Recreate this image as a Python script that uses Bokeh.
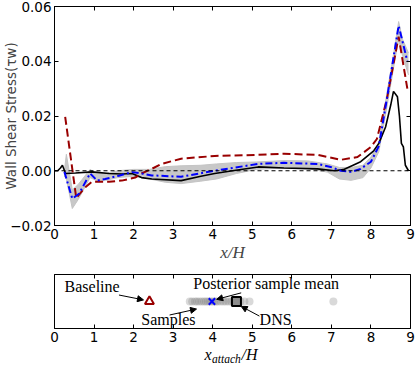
from bokeh.plotting import figure
from bokeh.models import (LinearAxis, FixedTicker, Label, Arrow, NormalHead, Span, Range1d)
from bokeh.layouts import column
from bokeh.embed import file_html
from bokeh.resources import INLINE

# ---------------- data ----------------
xticks = [0, 1, 2, 3, 4, 5, 6, 7, 8, 9]
yticks = [-0.02, 0.0, 0.02, 0.04, 0.06]
ytick_labels = ["\u22120.02", "0.00", "0.02", "0.04", "0.06"]

dns_x = [0.0, 0.08, 0.15, 0.2, 0.28, 0.53, 0.95, 1.38, 1.7, 1.96, 2.2, 2.46, 3.2, 3.7, 4.05,
         4.5, 5.15, 5.8, 6.65, 7.07, 7.3, 7.74, 8.07, 8.2, 8.37, 8.5, 8.57, 8.67, 8.72, 8.77,
         8.82, 8.87, 8.95]
dns_y = [0.0, 0.0, 0.001, 0.002, -0.001, -0.0008, -0.0004, -0.001, -0.0012, -0.001, -0.0025,
         -0.003, -0.0036, -0.002, -0.001, 0.0, 0.0014, 0.001, 0.0007, 0.0, 0.0004, 0.0033,
         0.0073, 0.01, 0.016, 0.024, 0.029, 0.027, 0.020, 0.010, 0.0087, 0.002, 0.0]

base_x = [0.27, 0.55, 0.78, 0.95, 1.38, 1.7, 2.04, 2.2, 2.46, 2.71, 3.2, 4.05, 5.15, 5.8, 6.65,
          7.24, 7.66, 8.0, 8.15, 8.4, 8.7, 8.92]
base_y = [0.0197, -0.010, -0.006, -0.004, -0.004, -0.0036, -0.0025, -0.001, 0.0007, 0.0025,
          0.0044, 0.0054, 0.0058, 0.0062, 0.0058, 0.004, 0.005, 0.0087, 0.0116, 0.026, 0.049, 0.030]

mean_x = [0.25, 0.45, 0.62, 0.9, 1.08, 1.28, 1.63, 1.96, 2.2, 2.46, 3.2, 4.05, 5.15, 5.8, 6.65,
          6.98, 7.24, 7.5, 7.74, 8.0, 8.2, 8.4, 8.7, 8.92]
mean_y = [-0.0004, -0.0102, -0.0084, -0.001, -0.0036, -0.003, -0.0018, -0.0005, -0.001, -0.0017,
          -0.0022, 0.0, 0.0025, 0.0029, 0.0025, 0.0014, 0.0, -0.0004, 0.0007, 0.0033, 0.009,
          0.026, 0.053, 0.040]

samp_x = [0.25, 0.3, 0.45, 0.6, 0.9, 1.05, 1.3, 1.6, 2.0, 2.4, 2.8, 3.2, 3.7, 4.1, 4.6, 5.1,
          5.8, 6.4, 6.9, 7.2, 7.5, 7.8, 8.0, 8.2, 8.4, 8.6, 8.7, 8.8, 8.95]
samp_hi = [0.0, 0.006, -0.007, -0.005, 0.0005, -0.001, -0.001, 0.0, 0.0005, 0.0005, 0.0015,
           0.0018, 0.002, 0.0025, 0.003, 0.0032, 0.0037, 0.0036, 0.0025, 0.0012, 0.0012, 0.002,
           0.005, 0.0105, 0.028, 0.045, 0.0545, 0.048, 0.043]
samp_lo = [-0.002, -0.003, -0.0138, -0.0105, -0.0025, -0.0035, -0.0035, -0.0025, -0.002, -0.003,
           -0.0042, -0.0047, -0.0038, -0.003, -0.001, 0.0005, 0.001, 0.0008, -0.0005, -0.003,
           -0.0035, -0.0025, 0.001, 0.007, 0.023, 0.040, 0.048, 0.042, 0.035]

attach_samples = [3.42, 3.48, 3.55, 3.6, 3.66, 3.72, 3.78, 3.83, 3.88, 3.93, 3.98, 4.03, 4.08,
                  4.13, 4.2, 4.27, 4.33, 4.4, 4.47, 4.53, 4.6, 4.7, 4.8, 4.93, 7.05]
attach_baseline = [2.4]
attach_mean = [3.98]
attach_dns = [4.6]

SANS = "DejaVu Sans"
SERIF = "Liberation Serif"
DARKRED = "#990000"
W = 415
LEFT, RIGHT = 52, 5


def style_axis(ax, ticks, labels=True):
    ax.major_tick_in = 4
    ax.major_tick_out = 0
    ax.minor_tick_line_color = None
    ax.axis_line_color = "black"
    ax.major_tick_line_color = "black"
    ax.major_label_text_font = SANS
    ax.major_label_text_color = "black"
    if labels:
        ax.major_label_text_font_size = "13.5px"
        ax.major_label_standoff = 3
    else:
        # tick marks only (matplotlib-style ticks on all four sides)
        ax.major_label_overrides = {t: "" for t in ticks}
        ax.major_label_text_font_size = "1px"
        ax.major_label_standoff = 0
        ax.axis_label_standoff = 0


def base_fig(height, top, bottom, yr):
    f = figure(width=W, height=height, output_backend="svg", toolbar_location=None, title=None,
               x_range=Range1d(0, 9), y_range=yr,
               x_axis_location=None, y_axis_location=None,
               min_border_top=top, min_border_left=LEFT, min_border_right=RIGHT,
               min_border_bottom=bottom)
    f.grid.visible = False
    f.background_fill_color = "white"
    f.border_fill_color = "white"
    return f


# ---------------- top panel ----------------
p1 = base_fig(265, 6, 40, Range1d(-0.02, 0.06))
p1.outline_line_color = "black"

xb = LinearAxis(ticker=FixedTicker(ticks=xticks), axis_label="x/H")
style_axis(xb, xticks)
xb.axis_label_text_font = SERIF
xb.axis_label_text_font_style = "italic"
xb.axis_label_text_font_size = "17px"
xb.axis_label_standoff = 1
p1.add_layout(xb, "below")

yl = LinearAxis(ticker=FixedTicker(ticks=yticks), axis_label="Wall Shear Stress(\u03c4w)")
style_axis(yl, yticks)
yl.major_label_overrides = dict(zip(yticks, ytick_labels))
yl.axis_label_text_font = SANS
yl.axis_label_text_font_style = "normal"
yl.axis_label_text_font_size = "13.5px"
yl.axis_label_standoff = -12
p1.add_layout(yl, "left")

xt = LinearAxis(ticker=FixedTicker(ticks=xticks))
style_axis(xt, xticks, labels=False)
p1.add_layout(xt, "above")
yr = LinearAxis(ticker=FixedTicker(ticks=yticks))
style_axis(yr, yticks, labels=False)
p1.add_layout(yr, "right")

p1.varea(x=samp_x, y1=samp_lo, y2=samp_hi, fill_color="#9a9a9a", fill_alpha=0.55)
p1.line(samp_x, samp_hi, line_color="#c4c4c4", line_width=1)
p1.line(samp_x, samp_lo, line_color="#c4c4c4", line_width=1)
p1.add_layout(Span(location=0, dimension="width", line_color="black", line_width=1,
                   line_dash="4 3"))
p1.line(dns_x, dns_y, line_color="black", line_width=1.6)
p1.line(base_x, base_y, line_color=DARKRED, line_width=2, line_dash="8 4")
p1.line(mean_x, mean_y, line_color="blue", line_width=2, line_dash="7 3 2 3")

# ---------------- bottom panel ----------------
p2 = base_fig(80, 9, 17, Range1d(0, 1))
p2.outline_line_color = "black"

xb2 = LinearAxis(ticker=FixedTicker(ticks=xticks))
style_axis(xb2, xticks)
p2.add_layout(xb2, "below")
xt2 = LinearAxis(ticker=FixedTicker(ticks=xticks))
style_axis(xt2, xticks, labels=False)
p2.add_layout(xt2, "above")

ymid = 0.5
p2.scatter(attach_samples, [ymid] * len(attach_samples), size=8, marker="circle",
           fill_color="#808080", fill_alpha=0.3, line_color=None)
p2.scatter(attach_baseline, [ymid], size=9, marker="triangle", fill_color=None,
           line_color=DARKRED, line_width=2)
p2.scatter(attach_dns, [ymid], size=9, marker="square", fill_color="#8c8c8c",
           line_color="black", line_width=2)
p2.scatter(attach_mean, [ymid], size=9, marker="x", line_color="blue", line_width=2)


def note(text, x, y):
    p2.add_layout(Label(x=x, y=y, text=text, text_align="center", text_baseline="middle",
                        text_font=SERIF, text_font_size="16px", text_color="black"))


def arrow(x0, y0, x1, y1):
    p2.add_layout(Arrow(end=NormalHead(size=6, fill_color="black", line_color="black"),
                        x_start=x0, y_start=y0, x_end=x1, y_end=y1,
                        line_color="black", line_width=1))


note("Baseline", 0.95, 0.77)
note("Posterior sample mean", 5.35, 0.83)
note("Samples", 2.88, 0.17)
note("DNS", 5.59, 0.17)
arrow(1.63, 0.62, 2.25, 0.53)
arrow(4.72, 0.66, 4.1, 0.54)
arrow(2.91, 0.25, 3.59, 0.36)
arrow(5.18, 0.23, 4.72, 0.41)

# ---------------- x_attach/H axis title (with subscript) ----------------
p3 = base_fig(22, 0, 0, Range1d(0, 1))
p3.outline_line_color = None
lab_y = 0.58
for txt, dx, dy, fs in [("x", -28, 0, "16px"), ("attach", -20.5, -4, "11.5px"),
                        ("/H", 9, 0, "16px")]:
    p3.add_layout(Label(x=4.5, y=lab_y, x_offset=dx, y_offset=dy, text=txt,
                        text_align="left", text_baseline="middle", text_font=SERIF,
                        text_font_style="italic", text_font_size=fs, text_color="black"))

layout = column(p1, p2, p3, spacing=0)
open("out.html", "w").write(file_html(layout, INLINE))
